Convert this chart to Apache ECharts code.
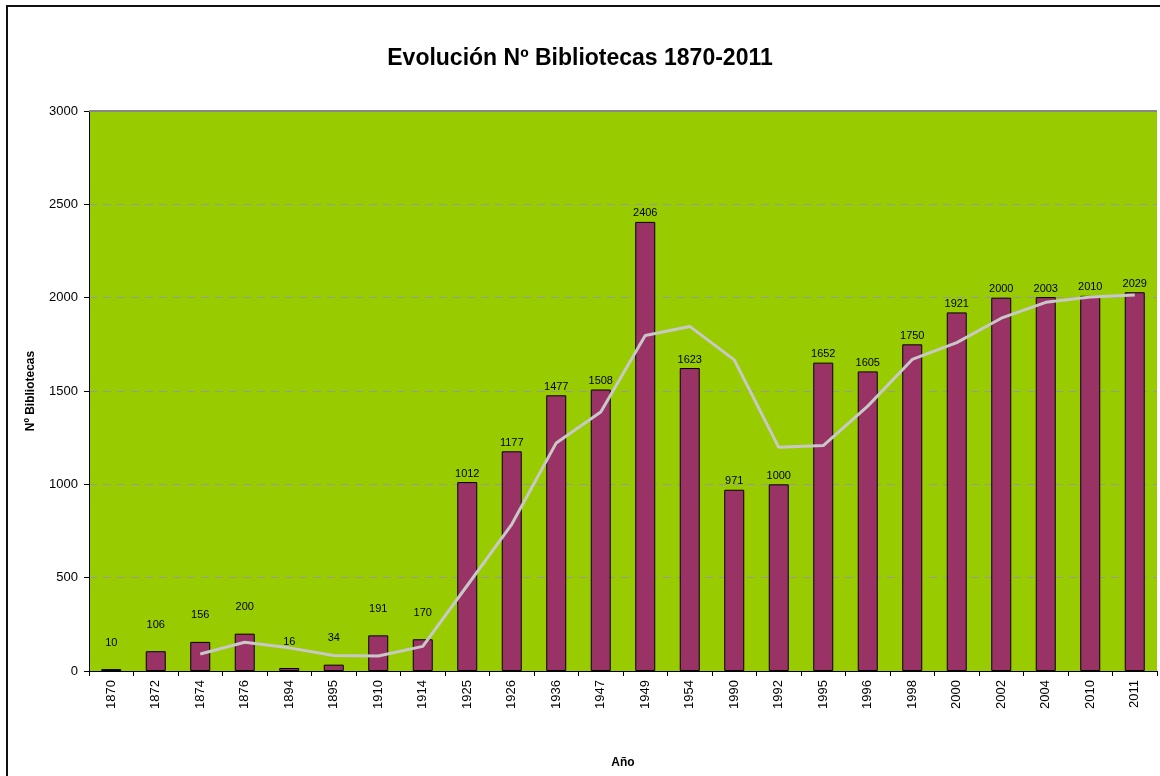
<!DOCTYPE html>
<html>
<head>
<meta charset="utf-8">
<script src="https://cdn.jsdelivr.net/npm/echarts@6/dist/echarts.min.js"></script>
<style>
  html, body { margin: 0; padding: 0; background: #fff; overflow: hidden; }
  #frame { position: absolute; left: 6px; top: 5px; width: 1200px; height: 820px; border: 2px solid #111; box-sizing: border-box; }
  #root { position: absolute; left: 0; top: 0; width: 1160px; height: 776px; }
</style>
</head>
<body>
<div id="frame"></div>
<div id="root"></div>
<script>
// categories (years)
const years = ['1870', '1872', '1874', '1876', '1894', '1895', '1910', '1914', '1925', '1926', '1936', '1947',
  '1949', '1954', '1990', '1992', '1995', '1996', '1998', '2000', '2002', '2004', '2010', '2011']

// number of libraries per year
const libraries = [10, 106, 156, 200, 16, 34, 191, 170, 1012, 1177, 1477, 1508,
  2406, 1623, 971, 1000, 1652, 1605, 1750, 1921, 2000, 2003, 2010, 2029]

// trend line (starts at 1874)
const trend = ['-', '-', 91, 154, 124, 83, 80, 132, 458, 786, 1222, 1387,
  1797, 1846, 1667, 1198, 1208, 1419, 1669, 1759, 1890, 1975, 2004, 2014]

const yTicks = [0, 500, 1000, 1500, 2000, 2500, 3000]

const chart = echarts.init(document.getElementById('root'))

// small bars get their labels a little higher, like in the original
const barData = libraries.map((v, i) => ({
  value: v,
  label: { distance: i < 8 ? 21 : 3 }
}))

const option = {
  animation: false,
  textStyle: { fontFamily: 'Liberation Sans, Arial, sans-serif' },
  title: {
    text: 'Evolución Nº Bibliotecas 1870-2011',
    left: 'center',
    top: 42,
    textStyle: { fontSize: 23, fontWeight: 'bold', color: '#000' }
  },
  grid: {
    left: 89,
    right: 3,
    top: 111,
    bottom: 105,
    show: true,
    backgroundColor: '#99CC00',
    borderWidth: 0
  },
  xAxis: {
    type: 'category',
    data: years,
    name: 'Año',
    nameLocation: 'middle',
    nameGap: 86,
    nameTextStyle: { fontSize: 12, fontWeight: 'bold', color: '#000' },
    axisLine: { lineStyle: { color: '#000', width: 1 } },
    axisTick: { show: true, length: 5, lineStyle: { color: '#000' } },
    axisLabel: { rotate: 90, fontSize: 13, color: '#000', margin: 9 }
  },
  yAxis: {
    type: 'value',
    min: yTicks[0],
    max: yTicks[yTicks.length - 1],
    interval: 500,
    name: 'Nº Bibliotecas',
    nameLocation: 'middle',
    nameGap: 52,
    nameTextStyle: { fontSize: 12, fontWeight: 'bold', color: '#000' },
    axisLine: { show: true, lineStyle: { color: '#000', width: 1 } },
    axisTick: { show: true, length: 5, lineStyle: { color: '#000' } },
    axisLabel: { fontSize: 13, color: '#000', margin: 11, formatter: v => String(v) },
    splitLine: { show: true, lineStyle: { color: '#999', type: [8, 6], width: 1 } }
  },
  series: [
    {
      name: 'Bibliotecas',
      type: 'bar',
      data: barData,
      barWidth: '45%',
      itemStyle: { color: '#993366', borderColor: '#000', borderWidth: 1 },
      label: { show: true, position: 'top', fontSize: 11, color: '#000' },
      markLine: {
        silent: true,
        symbol: 'none',
        label: { show: false },
        lineStyle: { color: '#888', type: 'solid', width: 2 },
        data: [{ yAxis: 3000 }]
      },
      z: 2
    },
    {
      name: 'Tendencia',
      type: 'line',
      data: trend,
      showSymbol: false,
      symbol: 'none',
      lineStyle: { color: '#C8C8C8', width: 3 },
      z: 3
    }
  ]
}

chart.setOption(option)
</script>
</body>
</html>
